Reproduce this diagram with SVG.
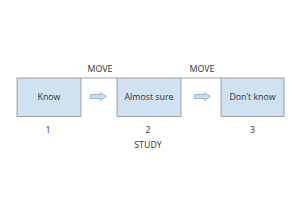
<svg xmlns="http://www.w3.org/2000/svg" width="300" height="204" viewBox="0 0 300 204">
<style>
.box{fill:#d0e1f2;stroke:#8c8c8c;stroke-width:0.8}
.t{font-family:"Open Sans","Liberation Sans",sans-serif;font-size:8.8px;fill:#333;text-anchor:middle}
.ln{stroke:#8c8c8c;stroke-width:0.8;fill:none}
.arr{fill:#c9dcef;stroke:#8aa6c8;stroke-width:0.8}
</style>
<rect width="300" height="204" fill="#fff"/>
<g id="connectors">
<line class="ln" x1="81" y1="78" x2="117" y2="78"/>
<line class="ln" x1="181" y1="78" x2="221" y2="78"/>
<path class="arr" d="M90.5,94.5 H100.5 V92.5 L106.5,96.5 L100.5,100.5 V98.5 H90.5 Z"/>
<path class="arr" d="M194.5,94.5 H204.5 V92.5 L210.5,96.5 L204.5,100.5 V98.5 H194.5 Z"/>
<text class="t" x="100" y="72">MOVE</text>
<text class="t" x="202" y="72">MOVE</text>
</g>
<g id="n1">
<rect class="box" x="17" y="78" width="64" height="38.5"/>
<text class="t" x="49" y="100">Know</text>
<text class="t" x="48" y="133">1</text>
</g>
<g id="n2">
<rect class="box" x="117" y="78" width="64" height="38.5"/>
<text class="t" x="149" y="100">Almost sure</text>
<text class="t" x="148" y="133">2</text>
<text class="t" x="148" y="148">STUDY</text>
</g>
<g id="n3">
<rect class="box" x="221" y="78" width="63" height="38.5"/>
<text class="t" x="252.5" y="100">Don’t know</text>
<text class="t" x="252.5" y="133">3</text>
</g>
</svg>
